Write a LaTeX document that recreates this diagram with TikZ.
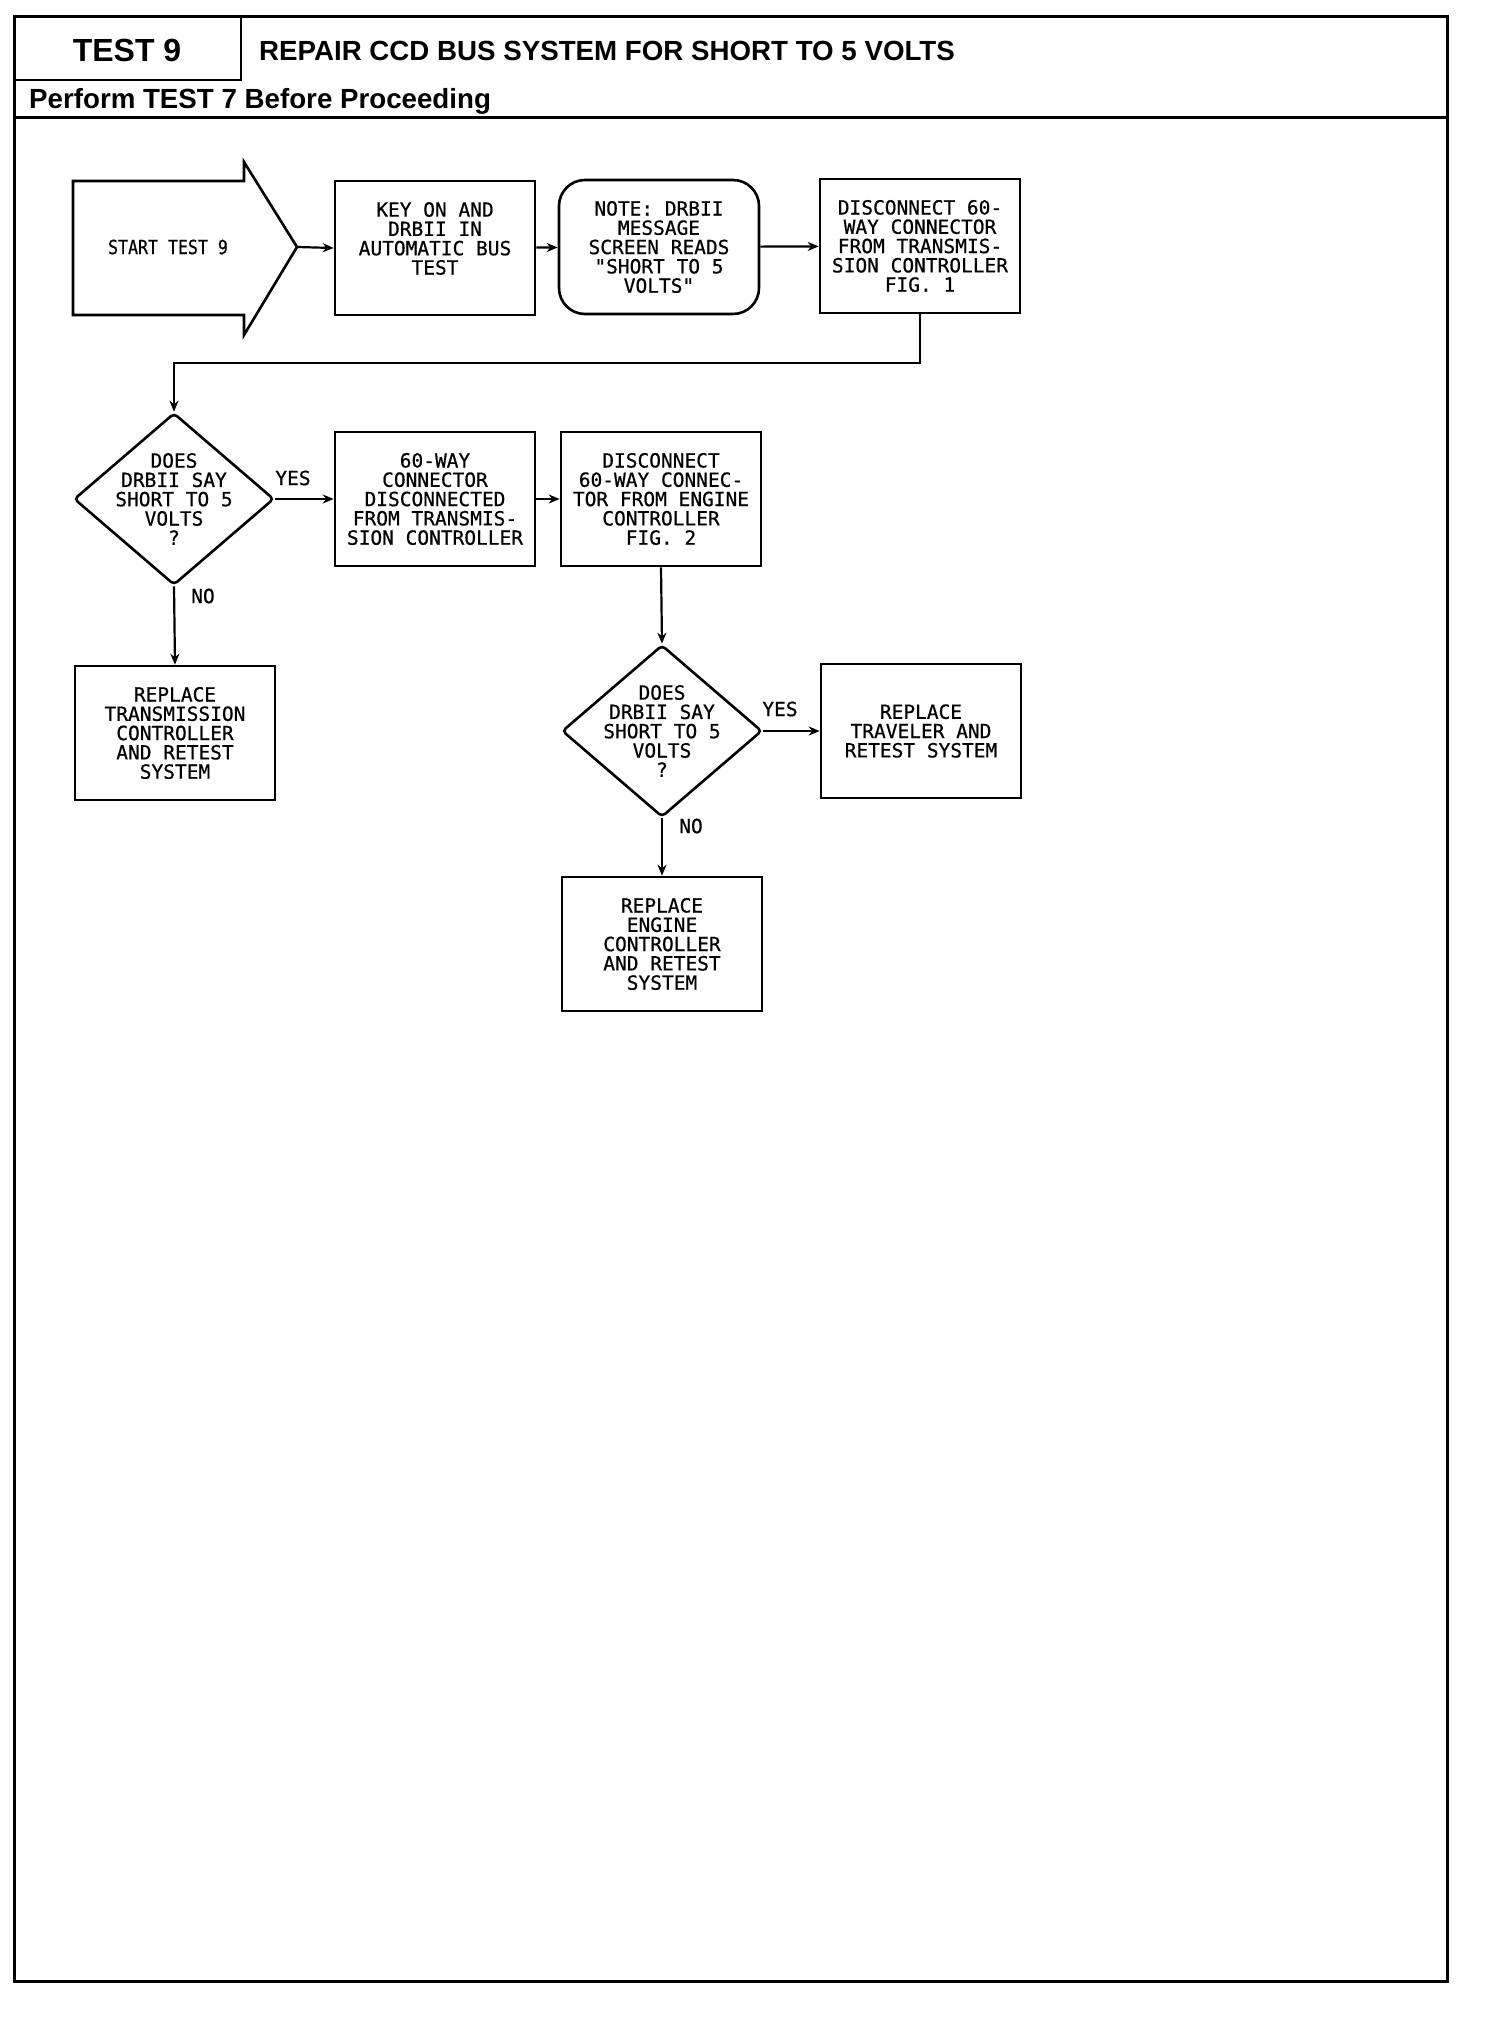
\documentclass[tikz,border=0pt]{standalone}
\usepackage{fontspec}
\setmainfont{Liberation Sans}
\newfontfamily\plotfont[FakeBold=0.6]{DejaVu Sans Mono}
\usetikzlibrary{shapes.geometric,arrows.meta}
\newcommand\flowfont{\plotfont\fontsize{19.5}{19.3}\selectfont}
\begin{document}
\begin{tikzpicture}[x=1pt,y=-1pt,
  box/.style={draw,line width=2.6pt,minimum width=200pt,minimum height=134pt,inner sep=0pt,align=center,font=\flowfont},
  rbox/.style={box,rounded corners=26pt},
  dia/.style={draw,diamond,line width=2.6pt,minimum width=200pt,minimum height=172pt,inner sep=0pt,rounded corners=4pt},
  dtext/.style={align=center,inner sep=0pt,font=\flowfont},
  lbl/.style={inner sep=0pt,font=\flowfont},
  arr/.style={draw,line width=2.2pt,-{Stealth[length=11pt,width=9pt]}},
  hdr/.style={inner sep=0pt,font=\bfseries\fontsize{27.7}{30}\selectfont}
]
\useasboundingbox (0,0) rectangle (1504,2018);
% frame and header
\draw[line width=3pt] (14,17) rectangle (1447,1981);
\draw[line width=2.6pt] (241,17) -- (241,80) -- (14,80);
\draw[line width=3pt] (14,117) -- (1447,117);
\node[hdr,anchor=base,font=\bfseries\fontsize{32}{34}\selectfont] (t9) at (127,62) {TEST 9};
\node[hdr,anchor=base west] (title) at (259,60) {REPAIR CCD BUS SYSTEM FOR SHORT TO 5 VOLTS};
\node[hdr,anchor=base west] (perf) at (29,108) {Perform TEST 7 Before Proceeding};
% start arrow
\draw[line width=2.6pt,line join=miter] (73,181) -- (244,181) -- (244,162) -- (297,247) -- (244,335) -- (244,315) -- (73,315) -- cycle;
\node[lbl] (start) at (168,247) {\scalebox{0.85}[1]{START TEST 9}};
\coordinate (starttip) at (297,247);
% boxes
\node[box] (key) at (435,248) {KEY ON AND\\DRBII IN\\AUTOMATIC BUS\\TEST\\~};
\node[rbox] (note) at (659,247) {NOTE: DRBII\\MESSAGE\\SCREEN READS\\"SHORT TO 5\\VOLTS"};
\node[box] (disc1) at (920,246) {DISCONNECT 60-\\WAY CONNECTOR\\FROM TRANSMIS-\\SION CONTROLLER\\FIG. 1};
\node[dia] (d1) at (174,499) {};
\node[dtext] (d1t) at (d1.center) {DOES\\DRBII SAY\\SHORT TO 5\\VOLTS\\?};
\node[box] (conn) at (435,499) {60-WAY\\CONNECTOR\\DISCONNECTED\\FROM TRANSMIS-\\SION CONTROLLER};
\node[box] (disc2) at (661,499) {DISCONNECT\\60-WAY CONNEC-\\TOR FROM ENGINE\\CONTROLLER\\FIG. 2};
\node[box] (reptr) at (175,733) {REPLACE\\TRANSMISSION\\CONTROLLER\\AND RETEST\\SYSTEM};
\node[dia] (d2) at (662,731) {};
\node[dtext] (d2t) at (d2.center) {DOES\\DRBII SAY\\SHORT TO 5\\VOLTS\\?};
\node[box] (trav) at (921,731) {REPLACE\\TRAVELER AND\\RETEST SYSTEM};
\node[box] (eng) at (662,944) {REPLACE\\ENGINE\\CONTROLLER\\AND RETEST\\SYSTEM};
% labels
\node[lbl] (yes1) at (293,478) {YES};
\node[lbl] (no1) at (203,596) {NO};
\node[lbl] (yes2) at (780,709) {YES};
\node[lbl] (no2) at (691,826) {NO};
% connectors
\draw[arr] (starttip) -- (key.west);
\draw[arr] (key) -- (note);
\draw[arr] (note) -- (disc1);
\draw[arr] (disc1.south) -- ++(0,49) -| (d1.north);
\draw[arr] (d1.east) -- (conn.west);
\draw[arr] (conn) -- (disc2);
\draw[arr] (d1.south) -- (reptr.north);
\draw[arr] (disc2.south) -- (d2.north);
\draw[arr] (d2.east) -- (trav.west);
\draw[arr] (d2.south) -- (eng.north);
\end{tikzpicture}
\end{document}
